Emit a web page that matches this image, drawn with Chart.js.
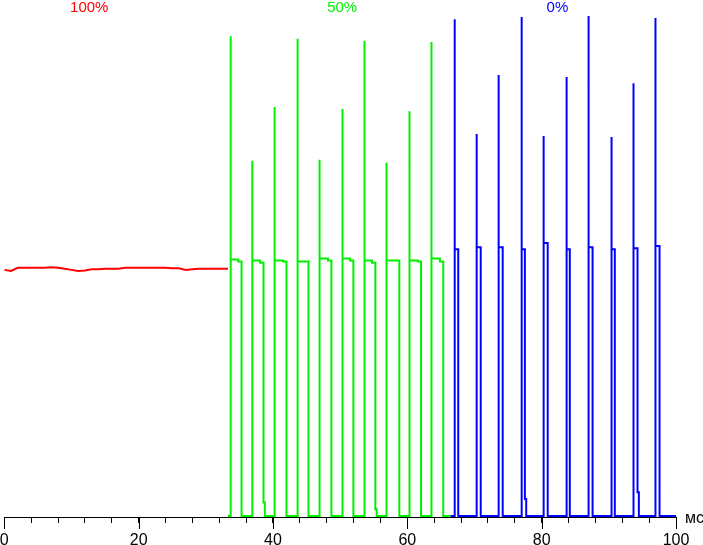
<!DOCTYPE html>
<html>
<head>
<meta charset="utf-8">
<script src="https://cdn.jsdelivr.net/npm/chart.js@4.4.1/dist/chart.umd.min.js"></script>
<style>
  html, body { margin: 0; padding: 0; background: #fff; }
  #wrap { width: 703px; height: 545px; position: relative; }
</style>
</head>
<body>
<div id="wrap"><canvas id="c"></canvas></div>
<script>
// x in ms, y in % of plot height (0 = axis)
const majorTicks = [0, 20, 40, 60, 80, 100];
const topLabels = ["100%", "50%", "0%"];
const unitLabel = "мс";

// red: 100% brightness, flat
const redX = [0, 1, 2, 3, 4, 5, 6, 7, 8, 9, 10, 11, 12, 13, 14, 15, 16, 17, 18, 19, 20,
              21, 22, 23, 24, 25, 26, 27, 28, 29, 30, 31, 32, 33, 33.3];
const redY = [47.8, 47.6, 48.2, 48.2, 48.2, 48.2, 48.2, 48.3, 48.2, 48.0, 47.8, 47.6, 47.7,
              47.9, 47.9, 48.0, 48.0, 48.0, 48.2, 48.2, 48.2, 48.2, 48.2, 48.2, 48.2, 48.1,
              48.1, 47.8, 47.9, 48.0, 48.0, 48.0, 48.0, 48.0, 48.0];

// green: 50% brightness, pwm pulses
const greenRise = [33.68, 36.9, 40.22, 43.64, 46.91, 50.33, 53.6, 56.88, 60.3, 63.57];
const greenFall = [35.32, 38.59, 42.01, 45.28, 48.7, 51.97, 55.24, 58.81, 62.04, 65.35];
const greenPeak = [93.0, 68.9, 79.3, 92.5, 69.1, 78.9, 92.1, 68.5, 78.5, 91.9];
const greenStart = [49.8, 49.6, 49.6, 49.4, 50.0, 50.0, 49.6, 49.6, 49.6, 50.0];
const greenEnd = [49.4, 49.2, 49.4, 49.4, 49.6, 49.6, 49.2, 49.6, 49.4, 49.4];
const greenTail = [0, 2.8, 0, 0, 0, 0, 1.5, 0, 0, 0];

// blue: 0% brightness, short pulses
const blueRise = [67.03, 70.3, 73.57, 77.0, 80.27, 83.69, 86.96, 90.38, 93.65, 96.92];
const blueFall = [67.58, 70.93, 74.2, 77.5, 80.9, 84.19, 87.58, 90.89, 94.27, 97.55];
const bluePeak = [96.3, 74.1, 85.5, 96.7, 73.7, 85.1, 96.9, 73.5, 83.9, 96.5];
const blueLevel = [51.8, 52.2, 52.2, 51.8, 53.0, 51.8, 52.2, 51.8, 52.0, 52.4];
const blueTail = [0, 0, 0, 3.5, 0, 0, 0, 0, 4.8, 0];

const LOW = 0.2;

const pulses = (rise, fall, peak, start, end, tail) => {
    const pts = [];
    rise.forEach((r, i) => {
        const f = fall[i];
        pts.push({ x: r, y: LOW }, { x: r, y: peak[i] }, { x: r + 0.05, y: start[i] });
        if (end[i] !== start[i]) {
            pts.push({ x: f - 0.5, y: start[i] }, { x: f - 0.5, y: end[i] });
        }
        pts.push({ x: f, y: end[i] });
        if (tail[i]) {
            pts.push({ x: f, y: tail[i] }, { x: f + 0.2, y: tail[i] }, { x: f + 0.2, y: LOW });
        } else {
            pts.push({ x: f, y: LOW });
        }
    });
    return pts;
};

const redData = redX.map((x, i) => ({ x, y: redY[i] }));
const greenData = [{ x: 33.3, y: LOW }]
    .concat(pulses(greenRise, greenFall, greenPeak, greenStart, greenEnd, greenTail))
    .concat([{ x: 66.4, y: LOW }]);
const blueData = [{ x: 66.4, y: LOW }]
    .concat(pulses(blueRise, blueFall, bluePeak, blueLevel, blueLevel, blueTail))
    .concat([{ x: 100, y: LOW }]);

const FONT = "'Liberation Sans', Arial, sans-serif";

const extras = {
    id: "extras",
    afterDraw(chart) {
        const ctx = chart.ctx;
        const xs = chart.scales.x;
        const bottom = chart.chartArea.bottom;
        ctx.save();
        // longer marks at labelled ticks
        ctx.strokeStyle = "#000";
        ctx.lineWidth = 1;
        majorTicks.forEach((v) => {
            const px = Math.round(xs.getPixelForValue(v)) + 0.5;
            ctx.beginPath();
            ctx.moveTo(px, bottom);
            ctx.lineTo(px, bottom + 12);
            ctx.stroke();
        });
        // unit
        ctx.fillStyle = "#000";
        ctx.font = "16px " + FONT;
        ctx.textAlign = "left";
        ctx.textBaseline = "alphabetic";
        ctx.fillText(unitLabel, xs.right + 9, bottom + 6);
        // mode labels on top
        const cols = ["#ff0000", "#00f000", "#0000ff"];
        const at = [12.65, 50.3, 82.35];
        ctx.font = "15px " + FONT;
        ctx.textAlign = "center";
        topLabels.forEach((t, i) => {
            ctx.fillStyle = cols[i];
            ctx.fillText(t, xs.getPixelForValue(at[i]), 12);
        });
        ctx.restore();
    },
};

const ds = (data, color) => ({
    data,
    borderColor: color,
    borderWidth: 2,
    pointRadius: 0,
    tension: 0,
    fill: false,
});

new Chart(document.getElementById("c"), {
    type: "line",
    data: {
        datasets: [
            ds(redData, "#ff0000"),
            ds(greenData, "#00f000"),
            ds(blueData, "#0000ff"),
        ],
    },
    options: {
        responsive: true,
        maintainAspectRatio: false,
        animation: false,
        devicePixelRatio: 1,
        layout: { padding: { left: 4.3, right: 27, top: 0, bottom: 0 } },
        plugins: { legend: { display: false }, tooltip: { enabled: false } },
        scales: {
            x: {
                type: "linear",
                min: 0,
                max: 100,
                afterFit: (scale) => {
                    scale.height = 28;
                    scale.paddingLeft = 0;
                    scale.paddingRight = 0;
                },
                border: { display: true, color: "#000", width: 1 },
                grid: { drawOnChartArea: false, drawTicks: true, tickLength: 6, color: "#000" },
                ticks: {
                    stepSize: 4,
                    autoSkip: false,
                    maxRotation: 0,
                    padding: 8,
                    color: "#000",
                    font: { size: 16, family: FONT },
                    callback: (v) => (v % 20 === 0 ? String(v) : ""),
                },
            },
            y: { display: false, min: 0, max: 100 },
        },
    },
    plugins: [extras],
});
</script>
</body>
</html>
